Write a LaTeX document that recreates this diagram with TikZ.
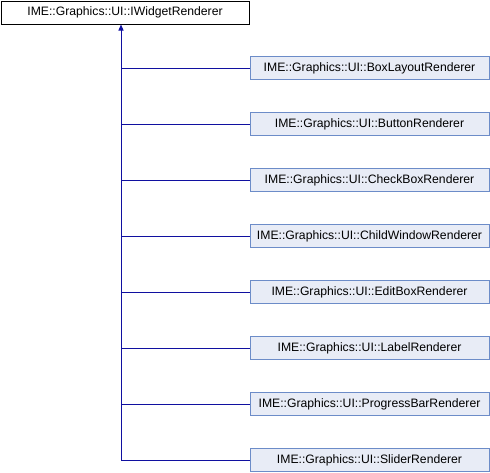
\documentclass[tikz,border=0pt]{standalone}
\usepackage{fontspec}
\setmainfont{Liberation Sans}
\usetikzlibrary{arrows.meta,positioning}

\definecolor{edgeblue}{RGB}{16,16,160}
\definecolor{classfill}{RGB}{232,236,246}
\definecolor{classline}{RGB}{108,140,200}

\begin{document}
\begin{tikzpicture}[x=1pt,y=1pt,node distance=56pt,
                    font=\fontsize{12.2}{14}\selectfont]

  \tikzstyle{base class} = [draw=black, fill=white, line width=1pt,
                            minimum width=248pt, minimum height=23pt, inner sep=0pt]
  \tikzstyle{derived} = [draw=classline, fill=classfill, line width=1pt,
                         minimum width=239pt, minimum height=23pt, inner sep=0pt]
  \tikzstyle{inherit} = [draw=edgeblue, line width=1pt]

  \useasboundingbox (0,0) rectangle (490,-472);

  \node[base class, anchor=north west] (IWidget) at (0.5,-0.5) {IME::Graphics::UI::IWidgetRenderer};
  \node[derived] (BoxLayout)   at (369.5,-68)       {IME::Graphics::UI::BoxLayoutRenderer};
  \node[derived] (Button)      [below of=BoxLayout]   {IME::Graphics::UI::ButtonRenderer};
  \node[derived] (CheckBox)    [below of=Button]      {IME::Graphics::UI::CheckBoxRenderer};
  \node[derived] (ChildWindow) [below of=CheckBox]    {IME::Graphics::UI::ChildWindowRenderer};
  \node[derived] (EditBox)     [below of=ChildWindow] {IME::Graphics::UI::EditBoxRenderer};
  \node[derived] (Label)       [below of=EditBox]     {IME::Graphics::UI::LabelRenderer};
  \node[derived] (ProgressBar) [below of=Label]       {IME::Graphics::UI::ProgressBarRenderer};
  \node[derived] (Slider)      [below of=ProgressBar] {IME::Graphics::UI::SliderRenderer};

  \coordinate (trunk) at ([xshift=-4pt]IWidget.south);

  \draw[inherit, -{Triangle[length=6pt,width=5pt]}] (Slider.west) -| (trunk);
  \foreach \child in {BoxLayout,Button,CheckBox,ChildWindow,EditBox,Label,ProgressBar}
    \draw[inherit] (\child.west) -- (\child.west -| trunk);
\end{tikzpicture}
\end{document}
